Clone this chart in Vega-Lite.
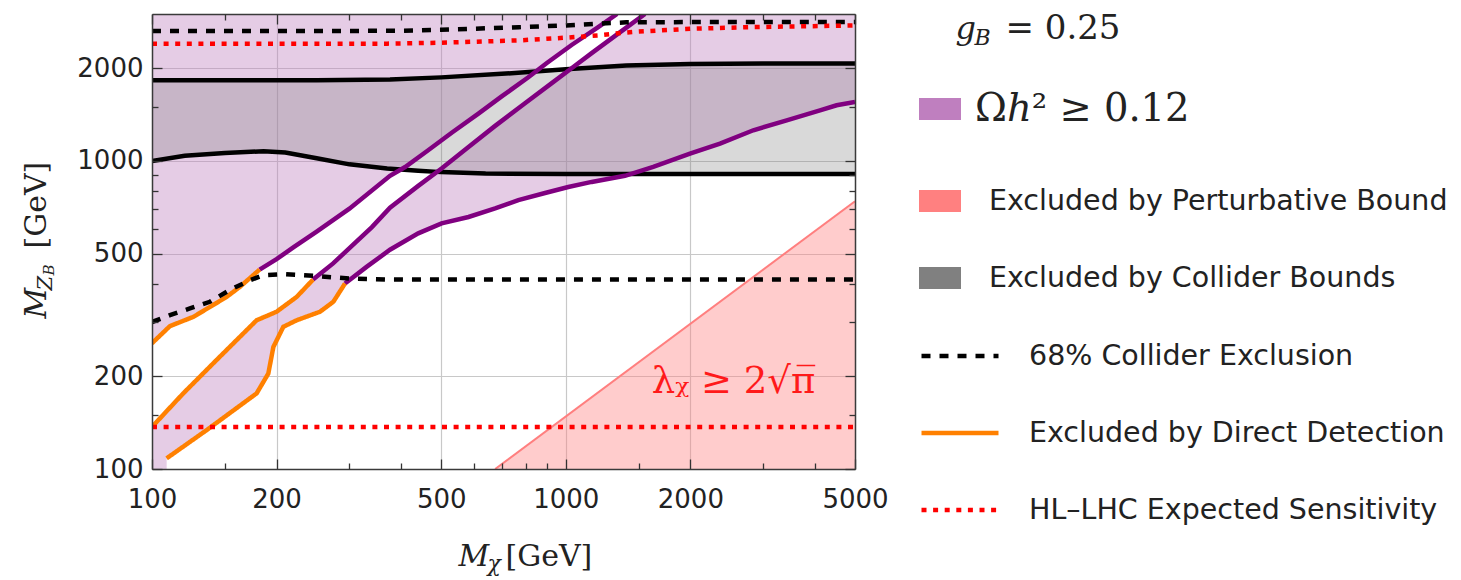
{
  "$schema": "https://vega.github.io/schema/vega-lite/v6.json",
  "autosize": "none",
  "width": 703,
  "height": 455,
  "padding": {"left": 152, "top": 14, "right": 606, "bottom": 111},
  "background": "white",
  "datasets": {
    "regions": [
      {"region": "relic-upper", "zone": "Ωℎ² ≥ 0.12", "i": 0, "x": 100, "y": 3000},
      {"region": "relic-upper", "zone": "Ωℎ² ≥ 0.12", "i": 1, "x": 100, "y": 256},
      {"region": "relic-upper", "zone": "Ωℎ² ≥ 0.12", "i": 2, "x": 110.5, "y": 291},
      {"region": "relic-upper", "zone": "Ωℎ² ≥ 0.12", "i": 3, "x": 126, "y": 312},
      {"region": "relic-upper", "zone": "Ωℎ² ≥ 0.12", "i": 4, "x": 151.5, "y": 362},
      {"region": "relic-upper", "zone": "Ωℎ² ≥ 0.12", "i": 5, "x": 163, "y": 390},
      {"region": "relic-upper", "zone": "Ωℎ² ≥ 0.12", "i": 6, "x": 182, "y": 444},
      {"region": "relic-upper", "zone": "Ωℎ² ≥ 0.12", "i": 7, "x": 200, "y": 480},
      {"region": "relic-upper", "zone": "Ωℎ² ≥ 0.12", "i": 8, "x": 220, "y": 525},
      {"region": "relic-upper", "zone": "Ωℎ² ≥ 0.12", "i": 9, "x": 250, "y": 590},
      {"region": "relic-upper", "zone": "Ωℎ² ≥ 0.12", "i": 10, "x": 300, "y": 700},
      {"region": "relic-upper", "zone": "Ωℎ² ≥ 0.12", "i": 11, "x": 376, "y": 895},
      {"region": "relic-upper", "zone": "Ωℎ² ≥ 0.12", "i": 12, "x": 409, "y": 956},
      {"region": "relic-upper", "zone": "Ωℎ² ≥ 0.12", "i": 13, "x": 465, "y": 1083},
      {"region": "relic-upper", "zone": "Ωℎ² ≥ 0.12", "i": 14, "x": 530, "y": 1235},
      {"region": "relic-upper", "zone": "Ωℎ² ≥ 0.12", "i": 15, "x": 615, "y": 1424},
      {"region": "relic-upper", "zone": "Ωℎ² ≥ 0.12", "i": 16, "x": 700, "y": 1620},
      {"region": "relic-upper", "zone": "Ωℎ² ≥ 0.12", "i": 17, "x": 812, "y": 1870},
      {"region": "relic-upper", "zone": "Ωℎ² ≥ 0.12", "i": 18, "x": 900, "y": 2080},
      {"region": "relic-upper", "zone": "Ωℎ² ≥ 0.12", "i": 19, "x": 1033, "y": 2380},
      {"region": "relic-upper", "zone": "Ωℎ² ≥ 0.12", "i": 20, "x": 1198, "y": 2720},
      {"region": "relic-upper", "zone": "Ωℎ² ≥ 0.12", "i": 21, "x": 1330, "y": 3000},

      {"region": "relic-lower", "zone": "Ωℎ² ≥ 0.12", "i": 0, "x": 100, "y": 100},
      {"region": "relic-lower", "zone": "Ωℎ² ≥ 0.12", "i": 1, "x": 100, "y": 137},
      {"region": "relic-lower", "zone": "Ωℎ² ≥ 0.12", "i": 2, "x": 119, "y": 176},
      {"region": "relic-lower", "zone": "Ωℎ² ≥ 0.12", "i": 3, "x": 143.3, "y": 226},
      {"region": "relic-lower", "zone": "Ωℎ² ≥ 0.12", "i": 4, "x": 179, "y": 304},
      {"region": "relic-lower", "zone": "Ωℎ² ≥ 0.12", "i": 5, "x": 200, "y": 324},
      {"region": "relic-lower", "zone": "Ωℎ² ≥ 0.12", "i": 6, "x": 223.7, "y": 362},
      {"region": "relic-lower", "zone": "Ωℎ² ≥ 0.12", "i": 7, "x": 245, "y": 412},
      {"region": "relic-lower", "zone": "Ωℎ² ≥ 0.12", "i": 8, "x": 274, "y": 465},
      {"region": "relic-lower", "zone": "Ωℎ² ≥ 0.12", "i": 9, "x": 305, "y": 532},
      {"region": "relic-lower", "zone": "Ωℎ² ≥ 0.12", "i": 10, "x": 340, "y": 610},
      {"region": "relic-lower", "zone": "Ωℎ² ≥ 0.12", "i": 11, "x": 376, "y": 705},
      {"region": "relic-lower", "zone": "Ωℎ² ≥ 0.12", "i": 12, "x": 440, "y": 830},
      {"region": "relic-lower", "zone": "Ωℎ² ≥ 0.12", "i": 13, "x": 501, "y": 945},
      {"region": "relic-lower", "zone": "Ωℎ² ≥ 0.12", "i": 14, "x": 582, "y": 1110},
      {"region": "relic-lower", "zone": "Ωℎ² ≥ 0.12", "i": 15, "x": 675, "y": 1300},
      {"region": "relic-lower", "zone": "Ωℎ² ≥ 0.12", "i": 16, "x": 797, "y": 1540},
      {"region": "relic-lower", "zone": "Ωℎ² ≥ 0.12", "i": 17, "x": 925, "y": 1790},
      {"region": "relic-lower", "zone": "Ωℎ² ≥ 0.12", "i": 18, "x": 1033, "y": 2000},
      {"region": "relic-lower", "zone": "Ωℎ² ≥ 0.12", "i": 19, "x": 1155, "y": 2240},
      {"region": "relic-lower", "zone": "Ωℎ² ≥ 0.12", "i": 20, "x": 1390, "y": 2690},
      {"region": "relic-lower", "zone": "Ωℎ² ≥ 0.12", "i": 21, "x": 1554, "y": 3000},
      {"region": "relic-lower", "zone": "Ωℎ² ≥ 0.12", "i": 22, "x": 5000, "y": 3000},
      {"region": "relic-lower", "zone": "Ωℎ² ≥ 0.12", "i": 23, "x": 5000, "y": 1554},
      {"region": "relic-lower", "zone": "Ωℎ² ≥ 0.12", "i": 24, "x": 4514, "y": 1516},
      {"region": "relic-lower", "zone": "Ωℎ² ≥ 0.12", "i": 25, "x": 4115, "y": 1460},
      {"region": "relic-lower", "zone": "Ωℎ² ≥ 0.12", "i": 26, "x": 3419, "y": 1355},
      {"region": "relic-lower", "zone": "Ωℎ² ≥ 0.12", "i": 27, "x": 2839, "y": 1258},
      {"region": "relic-lower", "zone": "Ωℎ² ≥ 0.12", "i": 28, "x": 2359, "y": 1139},
      {"region": "relic-lower", "zone": "Ωℎ² ≥ 0.12", "i": 29, "x": 1996, "y": 1057},
      {"region": "relic-lower", "zone": "Ωℎ² ≥ 0.12", "i": 30, "x": 1627, "y": 956},
      {"region": "relic-lower", "zone": "Ωℎ² ≥ 0.12", "i": 31, "x": 1390, "y": 895},
      {"region": "relic-lower", "zone": "Ωℎ² ≥ 0.12", "i": 32, "x": 1155, "y": 855},
      {"region": "relic-lower", "zone": "Ωℎ² ≥ 0.12", "i": 33, "x": 1014, "y": 823},
      {"region": "relic-lower", "zone": "Ωℎ² ≥ 0.12", "i": 34, "x": 891, "y": 787},
      {"region": "relic-lower", "zone": "Ωℎ² ≥ 0.12", "i": 35, "x": 768, "y": 746},
      {"region": "relic-lower", "zone": "Ωℎ² ≥ 0.12", "i": 36, "x": 675, "y": 701},
      {"region": "relic-lower", "zone": "Ωℎ² ≥ 0.12", "i": 37, "x": 582, "y": 658},
      {"region": "relic-lower", "zone": "Ωℎ² ≥ 0.12", "i": 38, "x": 501, "y": 627},
      {"region": "relic-lower", "zone": "Ωℎ² ≥ 0.12", "i": 39, "x": 440, "y": 582},
      {"region": "relic-lower", "zone": "Ωℎ² ≥ 0.12", "i": 40, "x": 376, "y": 515},
      {"region": "relic-lower", "zone": "Ωℎ² ≥ 0.12", "i": 41, "x": 330, "y": 453},
      {"region": "relic-lower", "zone": "Ωℎ² ≥ 0.12", "i": 42, "x": 292.7, "y": 400},
      {"region": "relic-lower", "zone": "Ωℎ² ≥ 0.12", "i": 43, "x": 274.3, "y": 349},
      {"region": "relic-lower", "zone": "Ωℎ² ≥ 0.12", "i": 44, "x": 254.7, "y": 324},
      {"region": "relic-lower", "zone": "Ωℎ² ≥ 0.12", "i": 45, "x": 223.7, "y": 304},
      {"region": "relic-lower", "zone": "Ωℎ² ≥ 0.12", "i": 46, "x": 207.7, "y": 289.5},
      {"region": "relic-lower", "zone": "Ωℎ² ≥ 0.12", "i": 47, "x": 196.5, "y": 249},
      {"region": "relic-lower", "zone": "Ωℎ² ≥ 0.12", "i": 48, "x": 191, "y": 204},
      {"region": "relic-lower", "zone": "Ωℎ² ≥ 0.12", "i": 49, "x": 179, "y": 176},
      {"region": "relic-lower", "zone": "Ωℎ² ≥ 0.12", "i": 50, "x": 135.6, "y": 133.8},
      {"region": "relic-lower", "zone": "Ωℎ² ≥ 0.12", "i": 51, "x": 108.5, "y": 108.3},
      {"region": "relic-lower", "zone": "Ωℎ² ≥ 0.12", "i": 52, "x": 108.5, "y": 100},

      {"region": "collider", "zone": "Excluded by Collider Bounds", "i": 0, "x": 100, "y": 1827},
      {"region": "collider", "zone": "Excluded by Collider Bounds", "i": 1, "x": 250, "y": 1830},
      {"region": "collider", "zone": "Excluded by Collider Bounds", "i": 2, "x": 376, "y": 1838},
      {"region": "collider", "zone": "Excluded by Collider Bounds", "i": 3, "x": 500, "y": 1868},
      {"region": "collider", "zone": "Excluded by Collider Bounds", "i": 4, "x": 700, "y": 1918},
      {"region": "collider", "zone": "Excluded by Collider Bounds", "i": 5, "x": 1000, "y": 1985},
      {"region": "collider", "zone": "Excluded by Collider Bounds", "i": 6, "x": 1400, "y": 2040},
      {"region": "collider", "zone": "Excluded by Collider Bounds", "i": 7, "x": 2000, "y": 2065},
      {"region": "collider", "zone": "Excluded by Collider Bounds", "i": 8, "x": 3000, "y": 2072},
      {"region": "collider", "zone": "Excluded by Collider Bounds", "i": 9, "x": 5000, "y": 2072},
      {"region": "collider", "zone": "Excluded by Collider Bounds", "i": 10, "x": 5000, "y": 908},
      {"region": "collider", "zone": "Excluded by Collider Bounds", "i": 11, "x": 1000, "y": 908},
      {"region": "collider", "zone": "Excluded by Collider Bounds", "i": 12, "x": 640, "y": 910},
      {"region": "collider", "zone": "Excluded by Collider Bounds", "i": 13, "x": 500, "y": 920},
      {"region": "collider", "zone": "Excluded by Collider Bounds", "i": 14, "x": 440, "y": 930},
      {"region": "collider", "zone": "Excluded by Collider Bounds", "i": 15, "x": 370, "y": 945},
      {"region": "collider", "zone": "Excluded by Collider Bounds", "i": 16, "x": 300, "y": 975},
      {"region": "collider", "zone": "Excluded by Collider Bounds", "i": 17, "x": 250, "y": 1020},
      {"region": "collider", "zone": "Excluded by Collider Bounds", "i": 18, "x": 210, "y": 1065},
      {"region": "collider", "zone": "Excluded by Collider Bounds", "i": 19, "x": 186, "y": 1075},
      {"region": "collider", "zone": "Excluded by Collider Bounds", "i": 20, "x": 150, "y": 1062},
      {"region": "collider", "zone": "Excluded by Collider Bounds", "i": 21, "x": 120, "y": 1040},
      {"region": "collider", "zone": "Excluded by Collider Bounds", "i": 22, "x": 100, "y": 1000},

      {"region": "perturbative", "zone": "Excluded by Perturbative Bound", "i": 0, "x": 675, "y": 100},
      {"region": "perturbative", "zone": "Excluded by Perturbative Bound", "i": 1, "x": 5000, "y": 740},
      {"region": "perturbative", "zone": "Excluded by Perturbative Bound", "i": 2, "x": 5000, "y": 100}
    ],
    "curves": [
      {"curve": "A", "x": 182, "y": 444}, {"curve": "A", "x": 200, "y": 480}, {"curve": "A", "x": 220, "y": 525},
      {"curve": "A", "x": 250, "y": 590}, {"curve": "A", "x": 300, "y": 700}, {"curve": "A", "x": 376, "y": 895},
      {"curve": "A", "x": 409, "y": 956}, {"curve": "A", "x": 465, "y": 1083}, {"curve": "A", "x": 530, "y": 1235},
      {"curve": "A", "x": 615, "y": 1424}, {"curve": "A", "x": 700, "y": 1620}, {"curve": "A", "x": 812, "y": 1870},
      {"curve": "A", "x": 900, "y": 2080}, {"curve": "A", "x": 1033, "y": 2380}, {"curve": "A", "x": 1198, "y": 2720},
      {"curve": "A", "x": 1330, "y": 3000},

      {"curve": "B", "x": 245, "y": 412}, {"curve": "B", "x": 274, "y": 465}, {"curve": "B", "x": 305, "y": 532},
      {"curve": "B", "x": 340, "y": 610}, {"curve": "B", "x": 376, "y": 705}, {"curve": "B", "x": 440, "y": 830},
      {"curve": "B", "x": 501, "y": 945}, {"curve": "B", "x": 582, "y": 1110}, {"curve": "B", "x": 675, "y": 1300},
      {"curve": "B", "x": 797, "y": 1540}, {"curve": "B", "x": 925, "y": 1790}, {"curve": "B", "x": 1033, "y": 2000},
      {"curve": "B", "x": 1155, "y": 2240}, {"curve": "B", "x": 1390, "y": 2690}, {"curve": "B", "x": 1554, "y": 3000},

      {"curve": "C", "x": 292.7, "y": 400}, {"curve": "C", "x": 330, "y": 453}, {"curve": "C", "x": 376, "y": 515},
      {"curve": "C", "x": 440, "y": 582}, {"curve": "C", "x": 501, "y": 627}, {"curve": "C", "x": 582, "y": 658},
      {"curve": "C", "x": 675, "y": 701}, {"curve": "C", "x": 768, "y": 746}, {"curve": "C", "x": 891, "y": 787},
      {"curve": "C", "x": 1014, "y": 823}, {"curve": "C", "x": 1155, "y": 855}, {"curve": "C", "x": 1390, "y": 895},
      {"curve": "C", "x": 1627, "y": 956}, {"curve": "C", "x": 1996, "y": 1057}, {"curve": "C", "x": 2359, "y": 1139},
      {"curve": "C", "x": 2839, "y": 1258}, {"curve": "C", "x": 3419, "y": 1355}, {"curve": "C", "x": 4115, "y": 1460},
      {"curve": "C", "x": 4514, "y": 1516}, {"curve": "C", "x": 5000, "y": 1554},

      {"curve": "A-dd", "series": "Excluded by Direct Detection", "x": 100, "y": 256},
      {"curve": "A-dd", "series": "Excluded by Direct Detection", "x": 110.5, "y": 291},
      {"curve": "A-dd", "series": "Excluded by Direct Detection", "x": 126, "y": 312},
      {"curve": "A-dd", "series": "Excluded by Direct Detection", "x": 151.5, "y": 362},
      {"curve": "A-dd", "series": "Excluded by Direct Detection", "x": 163, "y": 390},
      {"curve": "A-dd", "series": "Excluded by Direct Detection", "x": 182, "y": 444},
      {"curve": "B-dd", "series": "Excluded by Direct Detection", "x": 100, "y": 137},
      {"curve": "B-dd", "series": "Excluded by Direct Detection", "x": 119, "y": 176},
      {"curve": "B-dd", "series": "Excluded by Direct Detection", "x": 143.3, "y": 226},
      {"curve": "B-dd", "series": "Excluded by Direct Detection", "x": 179, "y": 304},
      {"curve": "B-dd", "series": "Excluded by Direct Detection", "x": 200, "y": 324},
      {"curve": "B-dd", "series": "Excluded by Direct Detection", "x": 223.7, "y": 362},
      {"curve": "B-dd", "series": "Excluded by Direct Detection", "x": 245, "y": 412},
      {"curve": "C-dd", "series": "Excluded by Direct Detection", "x": 108.5, "y": 108.3},
      {"curve": "C-dd", "series": "Excluded by Direct Detection", "x": 135.6, "y": 133.8},
      {"curve": "C-dd", "series": "Excluded by Direct Detection", "x": 179, "y": 176},
      {"curve": "C-dd", "series": "Excluded by Direct Detection", "x": 191, "y": 204},
      {"curve": "C-dd", "series": "Excluded by Direct Detection", "x": 196.5, "y": 249},
      {"curve": "C-dd", "series": "Excluded by Direct Detection", "x": 207.7, "y": 289.5},
      {"curve": "C-dd", "series": "Excluded by Direct Detection", "x": 223.7, "y": 304},
      {"curve": "C-dd", "series": "Excluded by Direct Detection", "x": 254.7, "y": 324},
      {"curve": "C-dd", "series": "Excluded by Direct Detection", "x": 274.3, "y": 349},
      {"curve": "C-dd", "series": "Excluded by Direct Detection", "x": 292.7, "y": 400},

      {"curve": "collider-upper", "x": 100, "y": 1827}, {"curve": "collider-upper", "x": 250, "y": 1830},
      {"curve": "collider-upper", "x": 376, "y": 1838}, {"curve": "collider-upper", "x": 500, "y": 1868},
      {"curve": "collider-upper", "x": 700, "y": 1918}, {"curve": "collider-upper", "x": 1000, "y": 1985},
      {"curve": "collider-upper", "x": 1400, "y": 2040}, {"curve": "collider-upper", "x": 2000, "y": 2065},
      {"curve": "collider-upper", "x": 3000, "y": 2072}, {"curve": "collider-upper", "x": 5000, "y": 2072},
      {"curve": "collider-lower", "x": 100, "y": 1000}, {"curve": "collider-lower", "x": 120, "y": 1040},
      {"curve": "collider-lower", "x": 150, "y": 1062}, {"curve": "collider-lower", "x": 186, "y": 1075},
      {"curve": "collider-lower", "x": 210, "y": 1065}, {"curve": "collider-lower", "x": 250, "y": 1020},
      {"curve": "collider-lower", "x": 300, "y": 975}, {"curve": "collider-lower", "x": 370, "y": 945},
      {"curve": "collider-lower", "x": 440, "y": 930}, {"curve": "collider-lower", "x": 500, "y": 920},
      {"curve": "collider-lower", "x": 640, "y": 910}, {"curve": "collider-lower", "x": 1000, "y": 908},
      {"curve": "collider-lower", "x": 5000, "y": 908},

      {"curve": "c68-lower", "series": "68% Collider Exclusion", "x": 100, "y": 300},
      {"curve": "c68-lower", "series": "68% Collider Exclusion", "x": 110.5, "y": 316},
      {"curve": "c68-lower", "series": "68% Collider Exclusion", "x": 123.5, "y": 332},
      {"curve": "c68-lower", "series": "68% Collider Exclusion", "x": 138, "y": 349},
      {"curve": "c68-lower", "series": "68% Collider Exclusion", "x": 154, "y": 381},
      {"curve": "c68-lower", "series": "68% Collider Exclusion", "x": 172.5, "y": 410},
      {"curve": "c68-lower", "series": "68% Collider Exclusion", "x": 186, "y": 426},
      {"curve": "c68-lower", "series": "68% Collider Exclusion", "x": 208, "y": 429},
      {"curve": "c68-lower", "series": "68% Collider Exclusion", "x": 250, "y": 423},
      {"curve": "c68-lower", "series": "68% Collider Exclusion", "x": 301, "y": 415},
      {"curve": "c68-lower", "series": "68% Collider Exclusion", "x": 376, "y": 412},
      {"curve": "c68-lower", "series": "68% Collider Exclusion", "x": 5000, "y": 412},
      {"curve": "c68-upper", "series": "68% Collider Exclusion", "x": 100, "y": 2641},
      {"curve": "c68-upper", "series": "68% Collider Exclusion", "x": 400, "y": 2645},
      {"curve": "c68-upper", "series": "68% Collider Exclusion", "x": 500, "y": 2665},
      {"curve": "c68-upper", "series": "68% Collider Exclusion", "x": 770, "y": 2718},
      {"curve": "c68-upper", "series": "68% Collider Exclusion", "x": 1000, "y": 2754},
      {"curve": "c68-upper", "series": "68% Collider Exclusion", "x": 1200, "y": 2790},
      {"curve": "c68-upper", "series": "68% Collider Exclusion", "x": 1400, "y": 2818},
      {"curve": "c68-upper", "series": "68% Collider Exclusion", "x": 2000, "y": 2825},
      {"curve": "c68-upper", "series": "68% Collider Exclusion", "x": 5000, "y": 2825},

      {"curve": "hl-upper", "series": "HL–LHC Expected Sensitivity", "x": 100, "y": 2404},
      {"curve": "hl-upper", "series": "HL–LHC Expected Sensitivity", "x": 370, "y": 2404},
      {"curve": "hl-upper", "series": "HL–LHC Expected Sensitivity", "x": 500, "y": 2420},
      {"curve": "hl-upper", "series": "HL–LHC Expected Sensitivity", "x": 770, "y": 2463},
      {"curve": "hl-upper", "series": "HL–LHC Expected Sensitivity", "x": 1000, "y": 2513},
      {"curve": "hl-upper", "series": "HL–LHC Expected Sensitivity", "x": 1200, "y": 2556},
      {"curve": "hl-upper", "series": "HL–LHC Expected Sensitivity", "x": 1390, "y": 2610},
      {"curve": "hl-upper", "series": "HL–LHC Expected Sensitivity", "x": 1500, "y": 2630},
      {"curve": "hl-upper", "series": "HL–LHC Expected Sensitivity", "x": 2000, "y": 2687},
      {"curve": "hl-upper", "series": "HL–LHC Expected Sensitivity", "x": 2840, "y": 2720},
      {"curve": "hl-upper", "series": "HL–LHC Expected Sensitivity", "x": 5000, "y": 2754},
      {"curve": "hl-lower", "series": "HL–LHC Expected Sensitivity", "x": 100, "y": 137},
      {"curve": "hl-lower", "series": "HL–LHC Expected Sensitivity", "x": 5000, "y": 137},

      {"curve": "perturbative-edge", "x": 675, "y": 100},
      {"curve": "perturbative-edge", "x": 5000, "y": 740}
    ],
    "notes": [
      {"text": "λᵪ ≥ 2√π̅", "x": 1613, "y": 176.8}
    ]
  },
  "layer": [
    {
      "data": {"name": "regions"},
      "transform": [{"filter": {"field": "region", "oneOf": ["relic-upper", "relic-lower"]}}],
      "mark": {"type": "line", "filled": true, "opacity": 0.4, "strokeWidth": 0, "clip": true},
      "encoding": {
        "x": {"field": "x", "type": "quantitative", "scale": {"type": "log", "domain": [100, 5000], "nice": false},
          "axis": {"orient": "bottom", "values": [200, 500, 1000, 2000], "grid": true, "zindex": 0, "title": null}},
        "y": {"field": "y", "type": "quantitative", "scale": {"type": "log", "domain": [100, 3000], "nice": false},
          "axis": {"orient": "left", "values": [200, 500, 1000, 2000], "grid": true, "zindex": 0, "title": null}},
        "order": {"field": "i", "type": "quantitative"},
        "detail": {"field": "region"},
        "color": {"field": "zone", "type": "nominal",
          "scale": {"domain": ["Ωℎ² ≥ 0.12"], "range": ["#bf7fbf"]},
          "legend": {"orient": "none", "legendX": 767, "legendY": 74, "title": null,
            "symbolType": "M-1,-0.52H1V0.52H-1Z", "symbolSize": 1764, "symbolOpacity": 1, "symbolStrokeWidth": 0,
            "labelFont": "DejaVu Serif", "labelFontSize": 38.5, "labelOffset": 14}}
      }
    },
    {
      "data": {"name": "regions"},
      "transform": [{"filter": {"field": "region", "equal": "collider"}}],
      "mark": {"type": "line", "opacity": 0.3, "strokeWidth": 0, "clip": true},
      "encoding": {
        "x": {"field": "x", "type": "quantitative", "scale": {"type": "log", "domain": [100, 5000], "nice": false},
          "axis": {"orient": "bottom", "values": [100, 200, 500, 1000, 2000, 5000], "format": "d",
            "ticks": true, "tickSize": -10, "labels": true, "labelPadding": 27, "domain": true, "zindex": 1,
            "title": "M", "titleFontStyle": "italic", "titleFontSize": 30, "titleAngle": 0, "titleX": 306, "titleY": 96}},
        "y": {"field": "y", "type": "quantitative", "scale": {"type": "log", "domain": [100, 3000], "nice": false},
          "axis": {"orient": "left", "values": [100, 200, 500, 1000, 2000], "format": "d",
            "ticks": true, "tickSize": -10, "labels": true, "labelPadding": 19, "domain": true, "zindex": 1,
            "title": "M", "titleFontStyle": "italic", "titleFontSize": 30, "titleAngle": 270, "titleX": -107, "titleY": 304}},
        "order": {"field": "i", "type": "quantitative"},
        "fill": {"field": "zone", "type": "nominal",
          "scale": {"domain": ["Excluded by Perturbative Bound", "Excluded by Collider Bounds"], "range": ["#ff8080", "#808080"]},
          "legend": {"orient": "none", "legendX": 767, "legendY": 166, "title": null, "rowPadding": 41,
            "symbolType": "M-1,-0.52H1V0.52H-1Z", "symbolSize": 1764, "symbolOpacity": 1, "symbolStrokeWidth": 0,
            "labelFont": "DejaVu Sans", "labelFontSize": 28.5, "labelOffset": 28}}
      }
    },
    {
      "data": {"name": "regions"},
      "transform": [{"filter": {"field": "region", "equal": "perturbative"}}],
      "mark": {"type": "line", "opacity": 0.4, "strokeWidth": 0, "clip": true},
      "encoding": {
        "x": {"field": "x", "type": "quantitative", "scale": {"type": "log", "domain": [100, 5000], "nice": false},
          "axis": {"orient": "bottom", "values": [150, 300, 400, 600, 700, 800, 900, 1500, 3000, 4000],
            "ticks": true, "tickSize": -6, "zindex": 1,
            "title": "χ", "titleFontStyle": "italic", "titleFontSize": 22, "titleAngle": 0, "titleX": 335, "titleY": 101}},
        "y": {"field": "y", "type": "quantitative", "scale": {"type": "log", "domain": [100, 3000], "nice": false},
          "axis": {"orient": "left", "values": [150, 300, 400, 600, 700, 800, 900, 1500],
            "ticks": true, "tickSize": -6, "zindex": 1,
            "title": "Z", "titleFontStyle": "italic", "titleFontSize": 21, "titleAngle": 270, "titleX": -101, "titleY": 276}},
        "order": {"field": "i", "type": "quantitative"},
        "fill": {"field": "zone", "type": "nominal",
          "scale": {"domain": ["Excluded by Perturbative Bound", "Excluded by Collider Bounds"], "range": ["#ff8080", "#808080"]},
          "legend": {"orient": "none", "legendX": 767, "legendY": 166, "title": null, "rowPadding": 41,
            "symbolType": "M-1,-0.52H1V0.52H-1Z", "symbolSize": 1764, "symbolOpacity": 1, "symbolStrokeWidth": 0,
            "labelFont": "DejaVu Sans", "labelFontSize": 28.5, "labelOffset": 28}}
      }
    },
    {
      "data": {"name": "curves"},
      "transform": [{"filter": {"field": "curve", "equal": "perturbative-edge"}}],
      "mark": {"type": "line", "stroke": "#ff7f7f", "strokeWidth": 2, "clip": true},
      "encoding": {
        "x": {"field": "x", "type": "quantitative", "scale": {"type": "log", "domain": [100, 5000], "nice": false},
          "axis": {"orient": "top", "values": [100, 200, 500, 1000, 2000, 5000],
            "ticks": true, "tickSize": -10, "domain": true, "zindex": 1,
            "title": "[GeV]", "titleFontSize": 30, "titleAngle": 0, "titleX": 353, "titleY": 551}},
        "y": {"field": "y", "type": "quantitative", "scale": {"type": "log", "domain": [100, 3000], "nice": false},
          "axis": {"orient": "right", "values": [100, 200, 500, 1000, 2000],
            "ticks": true, "tickSize": -10, "domain": true, "zindex": 1,
            "title": "B", "titleFontStyle": "italic", "titleFontSize": 15, "titleAngle": 270, "titleX": -802, "titleY": 261}}
      }
    },
    {
      "data": {"name": "curves"},
      "transform": [{"filter": {"field": "curve", "oneOf": ["collider-upper", "collider-lower"]}}],
      "mark": {"type": "line", "stroke": "black", "strokeWidth": 4.5, "clip": true},
      "encoding": {
        "x": {"field": "x", "type": "quantitative", "scale": {"type": "log", "domain": [100, 5000], "nice": false},
          "axis": {"orient": "top", "values": [150, 300, 400, 600, 700, 800, 900, 1500, 3000, 4000],
            "ticks": true, "tickSize": -6, "zindex": 1,
            "title": "g", "titleFontStyle": "italic", "titleFontSize": 32, "titleAngle": 0, "titleX": 803, "titleY": 24}},
        "y": {"field": "y", "type": "quantitative", "scale": {"type": "log", "domain": [100, 3000], "nice": false},
          "axis": {"orient": "right", "values": [150, 300, 400, 600, 700, 800, 900, 1500],
            "ticks": true, "tickSize": -6, "zindex": 1,
            "title": "[GeV]", "titleFontSize": 30, "titleAngle": 270, "titleX": -810, "titleY": 234}},
        "detail": {"field": "curve"}
      }
    },
    {
      "data": {"name": "curves"},
      "transform": [{"filter": {"field": "curve", "oneOf": ["A", "B", "C"]}}],
      "mark": {"type": "line", "stroke": "#800080", "strokeWidth": 4.5, "clip": true},
      "encoding": {
        "x": {"field": "x", "type": "quantitative", "scale": {"type": "log", "domain": [100, 5000], "nice": false},
          "axis": {"orient": "bottom", "values": [], "zindex": 1,
            "title": "B", "titleFontStyle": "italic", "titleFontSize": 22, "titleAngle": 0, "titleX": 822, "titleY": -425}},
        "y": {"field": "y", "type": "quantitative", "scale": {"type": "log", "domain": [100, 3000], "nice": false}, "axis": null},
        "detail": {"field": "curve"}
      }
    },
    {
      "data": {"name": "curves"},
      "transform": [{"filter": "isValid(datum.series)"}],
      "mark": {"type": "line", "strokeWidth": 4.5, "strokeCap": "butt", "clip": true},
      "encoding": {
        "x": {"field": "x", "type": "quantitative", "scale": {"type": "log", "domain": [100, 5000], "nice": false},
          "axis": {"orient": "bottom", "values": [], "zindex": 1,
            "title": "= 0.25", "titleFontSize": 34, "titleAngle": 0, "titleX": 853, "titleY": -431}},
        "y": {"field": "y", "type": "quantitative", "scale": {"type": "log", "domain": [100, 3000], "nice": false}, "axis": null},
        "detail": {"field": "curve"},
        "stroke": {"field": "series", "type": "nominal",
          "scale": {"domain": ["68% Collider Exclusion", "Excluded by Direct Detection", "HL–LHC Expected Sensitivity"],
            "range": ["black", "#ff8000", "#ff0000"]},
          "legend": {"orient": "none", "legendX": 767, "legendY": 301, "title": null, "rowPadding": 21,
            "symbolType": "stroke", "symbolSize": 5929, "symbolStrokeWidth": 4.5,
            "labelFont": "DejaVu Sans", "labelFontSize": 28.5, "labelOffset": 28}},
        "strokeDash": {"field": "series", "type": "nominal",
          "scale": {"domain": ["68% Collider Exclusion", "Excluded by Direct Detection", "HL–LHC Expected Sensitivity"],
            "range": [[9, 9], [1, 0], [5, 6.6]]},
          "legend": {"orient": "none", "legendX": 767, "legendY": 301, "title": null, "rowPadding": 21,
            "symbolType": "stroke", "symbolSize": 5929, "symbolStrokeWidth": 4.5,
            "labelFont": "DejaVu Sans", "labelFontSize": 28.5, "labelOffset": 28}}
      }
    },
    {
      "data": {"name": "notes"},
      "mark": {"type": "text", "align": "left", "baseline": "alphabetic", "font": "DejaVu Serif", "fontSize": 37, "color": "#ff1a1a"},
      "encoding": {
        "x": {"field": "x", "type": "quantitative", "scale": {"type": "log", "domain": [100, 5000], "nice": false}, "axis": null},
        "y": {"field": "y", "type": "quantitative", "scale": {"type": "log", "domain": [100, 3000], "nice": false}, "axis": null},
        "text": {"field": "text"}
      }
    }
  ],
  "resolve": {"scale": {"x": "shared", "y": "shared"}, "axis": {"x": "independent", "y": "independent"}},
  "config": {
    "view": {"stroke": null},
    "axis": {
      "grid": false, "ticks": false, "labels": false, "domain": false,
      "labelFont": "DejaVu Sans", "labelFontSize": 26, "labelColor": "#222",
      "labelOverlap": false, "labelFlush": false, "labelBound": false,
      "tickColor": "#333", "tickWidth": 1.3,
      "domainColor": "#3a3a3a", "domainWidth": 1.5,
      "gridColor": "#c8c8c8", "gridWidth": 1.2,
      "titleFont": "DejaVu Serif", "titleFontWeight": "normal", "titleColor": "#222",
      "titleAlign": "left", "titleBaseline": "alphabetic"
    },
    "legend": {"labelColor": "#222", "labelLimit": 0, "padding": 0}
  }
}
